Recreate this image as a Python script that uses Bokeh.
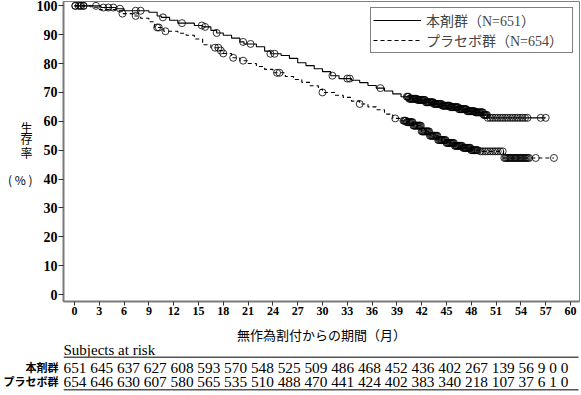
import numpy as np
from bokeh.plotting import figure
from bokeh.models import Range1d, Legend, LegendItem, FixedTicker, LinearAxis
from bokeh.layouts import column
from bokeh.embed import file_html
from bokeh.resources import INLINE
from bokeh.core.properties import value

# ---------------- data ----------------
x_ticks = list(range(0, 61, 3))
y_ticks = list(range(0, 101, 10))

series_names = ["本剤群（N=651）", "プラセボ群（N=654）"]
row_labels = ["本剤群", "プラセボ群"]
x_title = "無作為割付からの期間（月）"
y_title = ["生", "存", "率", "( % )"]
table_title = "Subjects at risk"

# Kaplan-Meier step estimates (time in months, survival %)
act_t = [0, 3.2, 5.0, 6.0, 9.0, 10.0, 10.5, 11.5, 12.5, 14.5, 15.5, 16.5, 17.2, 18.0, 19.0,
         20.0, 20.5, 22.0, 23.0, 23.7, 25.0, 26.0, 27.0, 28.0, 29.0, 30.0, 31.0, 32.0, 33.5,
         34.5, 35.5, 36.5, 37.5, 38.5, 39.5, 40.5, 41.5, 42.5, 43.5, 44.5, 45.5, 46.5, 47.5,
         48.5, 49.5, 50.0]
act_s = [100, 99.4, 99.0, 98.3, 97.8, 96.5, 96.0, 95.0, 94.0, 93.2, 92.7, 91.5, 90.6, 89.8, 88.8,
         87.5, 86.8, 85.8, 84.3, 83.4, 82.8, 81.8, 80.3, 79.3, 78.2, 77.2, 75.8, 74.8, 74.2,
         73.4, 72.4, 71.5, 70.5, 69.5, 68.5, 67.8, 67.4, 66.6, 66.0, 65.4, 64.9, 64.2, 63.5,
         63.1, 62.2, 61.2]
act_end = 57.0

pla_t = [0, 2.0, 3.0, 5.0, 5.8, 7.0, 8.0, 9.0, 9.7, 10.8, 12.5, 13.5, 14.5, 15.5, 16.5, 17.5,
         18.0, 19.0, 20.0, 21.0, 22.0, 23.0, 24.0, 25.5, 26.5, 27.5, 28.5, 29.5, 30.0, 31.5,
         32.5, 33.5, 34.5, 35.5, 36.5, 37.5, 38.5, 39.5, 40.2, 41.0, 42.0, 43.0, 44.0, 45.0,
         46.0, 47.0, 48.0, 49.0, 51.9]
pla_s = [100, 99.5, 98.7, 98.3, 97.3, 96.5, 95.7, 94.5, 92.5, 91.2, 90.5, 89.8, 88.5, 86.5, 85.5,
         84.5, 83.5, 82.0, 81.0, 80.0, 79.0, 78.0, 76.8, 75.5, 74.5, 73.5, 72.3, 71.0, 70.0,
         69.0, 68.3, 67.0, 66.0, 65.0, 64.0, 62.5, 61.0, 60.2, 59.7, 58.5, 56.5, 55.0, 53.5,
         52.5, 51.5, 50.8, 50.0, 49.6, 47.3]
pla_end = 58.0

# censored observations (months)
act_cens = [0.1, 0.5, 0.8, 1.1, 2.6, 3.5, 4.1, 4.7, 5.5, 7.4, 8.0, 10.7, 13.0, 15.4, 15.8, 17.2,
            20.4, 21.3, 23.7, 24.2, 31.2, 33.0, 33.3, 37.0,
            40.2, 40.3, 40.4, 40.5, 40.6, 40.7, 40.8, 40.9, 41.0, 41.1, 41.2, 41.3, 41.4, 41.5,
            41.6, 41.7, 41.8, 41.9, 42.0, 42.1, 42.2, 42.3, 42.4, 42.5, 42.6, 42.7, 42.8, 42.9,
            43.0, 43.1, 43.2, 43.3, 43.4, 43.5, 43.6, 43.7, 43.8, 43.9, 44.0, 44.1, 44.2, 44.3,
            44.4, 44.5, 44.6, 44.7, 44.8, 44.9, 45.0, 45.1, 45.2, 45.3, 45.4, 45.5, 45.6, 45.7,
            45.8, 45.9, 46.0, 46.1, 46.2, 46.3, 46.4, 46.5, 46.6, 46.7, 46.8, 46.9, 47.0, 47.1,
            47.2, 47.3, 47.4, 47.5, 47.6, 47.7, 47.8, 47.9, 48.0, 48.1, 48.2, 48.3, 48.4, 48.5,
            48.6, 48.7, 48.8, 48.9, 49.0, 49.1, 49.2, 49.3, 49.4, 49.5, 49.6, 49.7, 49.8, 49.9,
            50.0, 50.3, 50.6, 50.9, 51.2, 51.5, 51.8, 52.1, 52.4, 52.7, 53.0, 53.3, 53.6, 53.9,
            54.2, 54.5, 54.8, 56.4, 57.0]
pla_cens = [0.1, 0.7, 1.1, 5.8, 7.4, 10.0, 10.2, 11.0, 17.0, 17.4, 17.7, 18.0, 19.2, 20.4, 24.5,
            24.8, 30.0, 34.5, 38.8,
            39.8, 39.9, 40.0, 40.1, 40.2, 40.3, 40.4, 40.5, 40.6, 40.7, 40.8, 40.9, 41.0, 41.1,
            41.2, 41.3, 41.4, 41.5, 41.6, 41.7, 41.8, 41.9, 42.0, 42.1, 42.2, 42.3, 42.4, 42.5,
            42.6, 42.7, 42.8, 42.9, 43.0, 43.1, 43.2, 43.3, 43.4, 43.5, 43.6, 43.7, 43.8, 43.9,
            44.0, 44.1, 44.2, 44.3, 44.4, 44.5, 44.6, 44.7, 44.8, 44.9, 45.0, 45.1, 45.2, 45.3,
            45.4, 45.5, 45.6, 45.7, 45.8, 45.9, 46.0, 46.1, 46.2, 46.3, 46.4, 46.5, 46.6, 46.7,
            46.8, 46.9, 47.0, 47.1, 47.2, 47.3, 47.4, 47.5, 47.6, 47.7, 47.8, 47.9, 48.0, 48.1,
            48.2, 48.3, 48.4, 48.5, 48.6, 48.7, 48.8, 49.1, 49.4, 49.7, 50.0, 50.3, 50.6, 50.9,
            51.2, 51.5, 51.8, 52.0, 52.15, 52.3, 52.45, 52.6, 52.75, 52.9, 53.05, 53.2, 53.35,
            53.5, 53.65, 53.8, 53.95, 54.1, 54.25, 54.4, 54.55, 54.7, 54.85, 55.0, 55.8, 58.0]

risk_act = [651, 645, 637, 627, 608, 593, 570, 548, 525, 509, 486, 468, 452, 436, 402, 267, 139, 56, 9, 0, 0]
risk_pla = [654, 646, 630, 607, 580, 565, 535, 510, 488, 470, 441, 424, 402, 383, 340, 218, 107, 37, 6, 1, 0]


def surv_at(t_list, s_list, times):
    idx = np.searchsorted(np.array(t_list), np.array(times), side="right") - 1
    return np.array(s_list)[idx]


SERIF = "Liberation Serif"
JP = "Noto Sans CJK JP"
W = 581
MAIN_H = 322
TABLE_H = 73

# ---------------- main KM figure ----------------
p = figure(width=W, height=MAIN_H, x_range=Range1d(-1.33, 61.09), y_range=Range1d(-2.42, 101.5),
           output_backend="svg", toolbar_location=None,
           min_border_left=63, min_border_right=2, min_border_top=1, min_border_bottom=21)
p.grid.visible = False
p.outline_line_color = "#808080"
p.outline_line_width = 1

r_act = p.step(x=act_t + [act_end], y=act_s + [act_s[-1]], mode="after",
               line_color="black", line_width=1.1)
r_pla = p.step(x=pla_t + [pla_end], y=pla_s + [pla_s[-1]], mode="after",
               line_color="black", line_width=1.1, line_dash="4 3")

p.scatter(x=act_cens, y=surv_at(act_t, act_s, act_cens), size=7, marker="circle",
          fill_color=None, line_color="black", line_width=0.8)
p.scatter(x=pla_cens, y=surv_at(pla_t, pla_s, pla_cens), size=7, marker="circle",
          fill_color=None, line_color="black", line_width=0.8)

for ax in (p.xaxis[0], p.yaxis[0]):
    ax.axis_line_color = "#7a7a7a"
    ax.axis_line_width = 2
    ax.major_tick_line_color = "#333333"
    ax.major_tick_in = 0
    ax.minor_tick_out = 0
    ax.minor_tick_in = 0
    ax.major_label_text_font = SERIF
    ax.major_label_text_font_style = "bold"
    ax.major_label_text_color = "black"

p.xaxis[0].ticker = FixedTicker(ticks=x_ticks)
p.yaxis[0].ticker = FixedTicker(ticks=y_ticks)
p.xaxis[0].major_tick_out = 4
p.xaxis[0].major_label_standoff = 1
p.xaxis[0].major_label_text_font_size = "12px"
p.yaxis[0].major_tick_out = 5
p.yaxis[0].major_label_standoff = 1
p.yaxis[0].major_label_text_font_size = "14px"

# stacked y title (horizontal script), as an outer label-only axis on the left
title_pos = [57.8, 54, 49.2, 40]
ytitle_axis = LinearAxis(ticker=FixedTicker(ticks=title_pos),
                         major_label_overrides={k: s for k, s in zip(title_pos, y_title)},
                         axis_line_color=None, major_tick_line_color=None,
                         minor_tick_line_color=None, major_tick_out=0, major_tick_in=0,
                         minor_tick_out=0, minor_tick_in=0, major_label_standoff=1,
                         major_label_text_font=JP, major_label_text_font_size="12px",
                         major_label_text_color="black")
p.add_layout(ytitle_axis, "left")

legend = Legend(items=[LegendItem(label=series_names[0], renderers=[r_act]),
                       LegendItem(label=series_names[1], renderers=[r_pla])],
                location="top_right", margin=6, padding=2, spacing=0,
                glyph_width=48, glyph_height=14, label_height=14, label_standoff=5,
                label_width=144,
                label_text_font=SERIF + ", " + JP, label_text_font_size="14px",
                border_line_color="black", border_line_width=1,
                background_fill_color="white", background_fill_alpha=1)
p.add_layout(legend)

# ---------------- x title + number-at-risk table ----------------
t = figure(width=W, height=TABLE_H, x_range=Range1d(0, 516), y_range=Range1d(TABLE_H, 0),
           output_backend="svg", toolbar_location=None, x_axis_location=None,
           min_border_left=63, min_border_right=2, min_border_top=0, min_border_bottom=0)
t.grid.visible = False
t.outline_line_color = None

row_y = [44.7, 58.7]
ya = t.yaxis[0]
ya.ticker = FixedTicker(ticks=row_y)
ya.major_label_overrides = {row_y[0]: row_labels[0], row_y[1]: row_labels[1]}
ya.axis_line_color = None
ya.major_tick_line_color = None
ya.minor_tick_line_color = None
ya.major_tick_out = 0
ya.major_tick_in = 0
ya.minor_tick_out = 0
ya.minor_tick_in = 0
ya.major_label_standoff = 5
ya.major_label_text_font = JP
ya.major_label_text_font_style = "bold"
ya.major_label_text_font_size = "11px"
ya.major_label_text_color = "black"

t.text(x=[258], y=[12], text=[x_title], text_font=value(JP), text_font_size="13px",
       text_align="center", text_baseline="middle", text_color="black")
t.text(x=[0], y=[27.5], text=[table_title], text_font=value(SERIF),
       text_font_size="15px", text_align="left", text_baseline="middle", text_color="black")
t.text(x=[0, 0], y=row_y,
       text=[" ".join(str(v) for v in risk_act), " ".join(str(v) for v in risk_pla)],
       text_font=value(SERIF), text_font_size="15.3px", text_align="left",
       text_baseline="middle", text_color="black")
t.segment(x0=[0, 0], x1=[515, 515], y0=[34.7, 67.3], y1=[34.7, 67.3],
          line_color="#555555", line_width=1.5)

layout = column(p, t, spacing=0)
open("out.html", "w").write(file_html(layout, INLINE))
